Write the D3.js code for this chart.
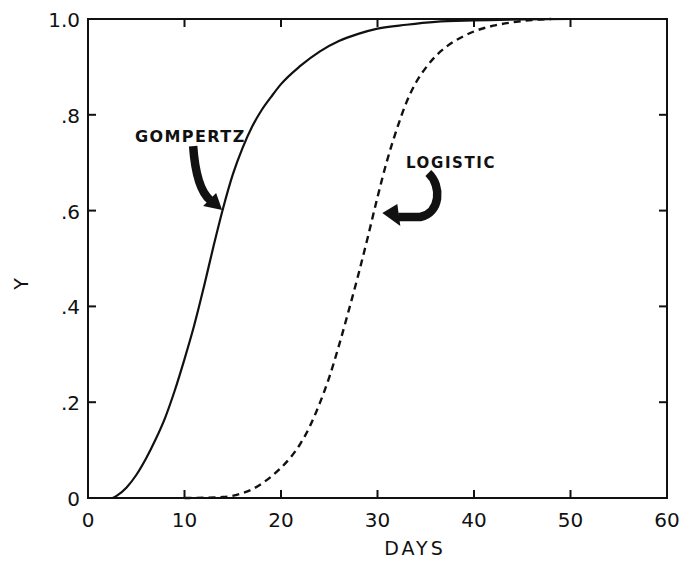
<!DOCTYPE html>
<html><head><meta charset="utf-8">
<script src="https://cdn.jsdelivr.net/npm/d3@7"></script>
<style>
html,body{margin:0;padding:0;background:#fff;}
text{font-family:"DejaVu Sans",sans-serif;fill:#111;}
</style></head>
<body><svg id="c" width="696" height="562"></svg>
<script>
// ---- data ----
const gompertzDays   = [0, 2.5, 3, 4, 5, 6, 7, 8, 9, 10, 11, 12, 13, 14, 15, 16, 17, 18, 19, 20, 22, 24, 26, 28, 30, 33, 36, 40, 45, 50];
const gompertzValues = [0, 0, 0.005, 0.022, 0.048, 0.082, 0.122, 0.168, 0.225, 0.29, 0.36, 0.44, 0.525, 0.605, 0.675, 0.73, 0.775, 0.81, 0.838, 0.864, 0.902, 0.932, 0.954, 0.969, 0.98, 0.988, 0.994, 0.997, 0.999, 1.0];
const logisticDays   = [10, 14, 16, 17, 18, 19, 20, 21, 22, 23, 24, 25, 26, 27, 28, 29, 30, 31, 32, 33, 34, 35, 36, 37, 38, 39, 40, 42, 44, 46, 48];
const logisticValues = [0, 0.002, 0.01, 0.018, 0.03, 0.045, 0.063, 0.085, 0.113, 0.15, 0.197, 0.252, 0.318, 0.39, 0.465, 0.545, 0.628, 0.705, 0.77, 0.826, 0.868, 0.898, 0.922, 0.94, 0.954, 0.965, 0.974, 0.986, 0.993, 0.998, 1.0];
const xTicks = [0, 10, 20, 30, 40, 50, 60];
const xTickLabels = ["0", "10", "20", "30", "40", "50", "60"];
const yTicks = [0, 0.2, 0.4, 0.6, 0.8, 1.0];
const yTickLabels = ["0", ".2", ".4", ".6", ".8", "1.0"];
const seriesNames = ["GOMPERTZ", "LOGISTIC"];

// ---- layout ----
const svg = d3.select("#c");
const L = 88, R = 667, T = 19, B = 498;
const x = d3.scaleLinear().domain([0, 60]).range([L, R]);
const y = d3.scaleLinear().domain([0, 1]).range([B, T]);
const ink = "#111";

// frame
svg.append("rect").attr("x", L).attr("y", T).attr("width", R - L).attr("height", B - T)
  .attr("fill", "none").attr("stroke", ink).attr("stroke-width", 2);

// inward ticks on all sides
const tl = 8;
const innerX = xTicks.slice(1, -1), innerY = yTicks.slice(1, -1);
const tk = svg.append("g").attr("stroke", ink).attr("stroke-width", 2);
innerX.forEach(d => {
  tk.append("line").attr("x1", x(d)).attr("x2", x(d)).attr("y1", B).attr("y2", B - tl);
  tk.append("line").attr("x1", x(d)).attr("x2", x(d)).attr("y1", T).attr("y2", T + tl);
});
innerY.forEach(d => {
  tk.append("line").attr("y1", y(d)).attr("y2", y(d)).attr("x1", L).attr("x2", L + tl);
  tk.append("line").attr("y1", y(d)).attr("y2", y(d)).attr("x1", R).attr("x2", R - tl);
});

// tick labels
svg.append("g").selectAll("text").data(xTicks).join("text")
  .attr("x", d => x(d)).attr("y", B + 29).attr("text-anchor", "middle")
  .attr("font-size", 20).text((d, i) => xTickLabels[i]);
svg.append("g").selectAll("text").data(yTicks).join("text")
  .attr("x", L - 8).attr("y", d => y(d) + 8).attr("text-anchor", "end")
  .attr("font-size", 20).text((d, i) => yTickLabels[i]);

// axis titles
svg.append("text").attr("x", 415).attr("y", 555).attr("text-anchor", "middle")
  .attr("font-size", 19).attr("letter-spacing", 3).text("DAYS");
svg.append("text").attr("transform", "translate(28,284) rotate(-90)")
  .attr("text-anchor", "middle").attr("font-size", 19).text("Y");

// curves
const line = d3.line().x(d => x(d[0])).y(d => y(d[1])).curve(d3.curveMonotoneX);
const gData = gompertzDays.map((d, i) => [d, gompertzValues[i]]);
const lData = logisticDays.map((d, i) => [d, logisticValues[i]]);
svg.append("path").datum(gData).attr("d", line).attr("fill", "none")
  .attr("stroke", ink).attr("stroke-width", 2.2);
svg.append("path").datum(lData).attr("d", line).attr("fill", "none")
  .attr("stroke", ink).attr("stroke-width", 2.4).attr("stroke-dasharray", "7,5");

// labels
svg.append("text").attr("x", 135).attr("y", 142).attr("font-size", 16).attr("font-weight", "bold")
  .attr("letter-spacing", 1.4).text(seriesNames[0]);
svg.append("text").attr("x", 406).attr("y", 168).attr("font-size", 15).attr("font-weight", "bold")
  .attr("letter-spacing", 1.6).text(seriesNames[1]);

// arrows, anchored at data positions
function arrow(day, val, body, head) {
  const ax = x(day), ay = y(val);
  const g = svg.append("g").attr("transform", `translate(${ax},${ay})`);
  g.append("path").attr("d", body).attr("fill", "none").attr("stroke", ink)
    .attr("stroke-width", 8.5).attr("stroke-linecap", "butt");
  g.append("path").attr("d", head).attr("fill", ink);
}
// Gompertz arrow tip near (13.9, .60)
arrow(13.9, 0.601, "M-29,-64 Q-26,-22 -12,-10", "M0,0 L-19,-4 L-6,-17 Z");
// Logistic arrow tip near (30.5, .595)
arrow(30.5, 0.595, "M46,-40 C60,-27 58,0 38,4 L16,4", "M0,0 L15,-9 L18,13 Z");
</script>
</body></html>
